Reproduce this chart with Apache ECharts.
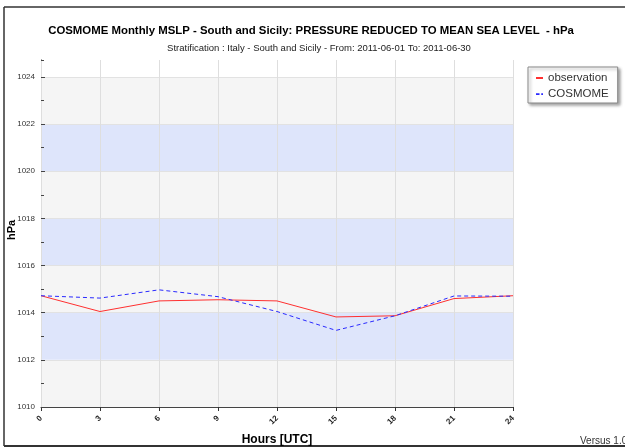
<!DOCTYPE html>
<html><head><meta charset="utf-8">
<script src="https://cdn.jsdelivr.net/npm/echarts@6/dist/echarts.min.js"></script>
<style>html,body{margin:0;padding:0;background:#fff}#c{width:625px;height:448px}</style>
</head><body><div id="c"></div>
<script>
const hours = [0, 3, 6, 9, 12, 15, 18, 21, 24];
const observation = [1014.72, 1014.05, 1014.5, 1014.55, 1014.5, 1013.82, 1013.87, 1014.6, 1014.72];
const cosmome = [1014.72, 1014.62, 1014.97, 1014.68, 1014.05, 1013.25, 1013.87, 1014.71, 1014.7];
const yMin = 1010, yMax = 1024.72, yStep = 2, yMinorStep = 1;
const xMin = 0, xMax = 24, xStep = 3;

const chart = echarts.init(document.getElementById('c'));
const F = 'Liberation Sans, Arial, sans-serif';
chart.setOption({
  animation: false,
  backgroundColor: '#fff',
  title: [{
    text: 'COSMOME Monthly MSLP - South and Sicily: PRESSURE REDUCED TO MEAN SEA LEVEL  - hPa',
    left: 306, top: 20, textAlign: 'center',
    textStyle: {fontFamily: F, fontSize: 11.4, fontWeight: 'bold', color: '#000'}
  }, {
    text: 'Stratification : Italy - South and Sicily - From: 2011-06-01 To: 2011-06-30',
    left: 314, top: 38, textAlign: 'center',
    textStyle: {fontFamily: F, fontSize: 9.5, fontWeight: 'normal', color: '#222'}
  }],
  legend: {
    orient: 'vertical', left: 528, top: 67,
    padding: [5, 9, 3, 8], itemGap: 4, itemWidth: 7, itemHeight: 2,
    backgroundColor: '#fff', borderColor: '#888', borderWidth: 1,
    shadowColor: 'rgba(0,0,0,0.35)', shadowBlur: 3, shadowOffsetX: 2, shadowOffsetY: 2,
    textStyle: {fontFamily: F, fontSize: 11.5, color: '#333'},
    data: [
      {name: 'observation', icon: 'rect', itemStyle: {color: '#ff3030'}},
      {name: 'COSMOME', icon: 'path://M0,0h4v2h-4z M6,0h2v2h-2z', itemStyle: {color: '#2a2aff'}}
    ]
  },
  grid: {left: 41, right: 112, top: 60, bottom: 41, containLabel: false, outerBoundsMode: 'none'},
  xAxis: {
    type: 'value', min: xMin, max: xMax, interval: xStep, z: 2,
    name: 'Hours [UTC]', nameLocation: 'middle', nameGap: 27,
    nameTextStyle: {fontFamily: F, fontSize: 12, fontWeight: 'bold', color: '#000'},
    axisLine: {show: true, lineStyle: {color: '#444', width: 1}},
    axisTick: {show: true, length: 4, lineStyle: {color: '#333'}},
    axisLabel: {rotate: 45, fontFamily: F, fontSize: 8, fontWeight: 'bold', color: '#222', margin: 10},
    splitLine: {show: true, lineStyle: {color: '#dedede', width: 1}}
  },
  yAxis: [{
    type: 'value', min: yMin, max: yMax, interval: yStep, z: 1,
    axisLine: {show: true, lineStyle: {color: '#222', width: 1}},
    axisTick: {show: true, inside: true, length: 4, lineStyle: {color: '#444'}},
    axisLabel: {fontFamily: F, fontSize: 8, color: '#333', margin: 6, showMaxLabel: false,
      formatter: v => (Number.isInteger(v) ? String(v) : '')},
    splitLine: {show: true, showMaxLine: false, lineStyle: {color: '#e2e2e2', width: 1}},
    splitArea: {show: true, areaStyle: {color: ['#f5f5f5', '#dee5fb', '#f5f5f5', '#dee5fb', '#f5f5f5', '#dee5fb', '#f5f5f5', '#ffffff']}}
  }, {
    type: 'value', min: yMin, max: yMax, interval: yMinorStep, position: 'left', z: 3,
    axisLine: {show: false},
    axisTick: {show: true, inside: true, length: 3, lineStyle: {color: '#444'}},
    axisLabel: {show: false},
    splitLine: {show: false}, splitArea: {show: false}
  }],
  series: [{
    name: 'observation', type: 'line', symbol: 'none', smooth: false,
    lineStyle: {color: '#ff3030', width: 1}, itemStyle: {color: '#ff3030'},
    data: hours.map((h, i) => [h, observation[i]])
  }, {
    name: 'COSMOME', type: 'line', symbol: 'none', smooth: false,
    lineStyle: {color: '#2a2aff', width: 1, type: [4, 3]}, itemStyle: {color: '#2a2aff'},
    data: hours.map((h, i) => [h, cosmome[i]])
  }],
  graphic: [
    {type: 'line', shape: {x1: 4, y1: 7, x2: 625, y2: 7}, style: {stroke: '#333', lineWidth: 1.5}},
    {type: 'line', shape: {x1: 4, y1: 7, x2: 4, y2: 446}, style: {stroke: '#333', lineWidth: 1.5}},
    {type: 'line', shape: {x1: 4, y1: 446, x2: 625, y2: 446}, style: {stroke: '#333', lineWidth: 2}},
    {type: 'text', x: 12, y: 230, rotation: Math.PI / 2,
      style: {text: 'hPa', fontFamily: F, fontSize: 11, fontWeight: 'bold', fill: '#000', align: 'center', verticalAlign: 'middle'}},
    {type: 'text', left: 580, top: 436, style: {text: 'Versus 1.0', fontFamily: F, fontSize: 10, fill: '#333'}}
  ]
});
</script></body></html>
